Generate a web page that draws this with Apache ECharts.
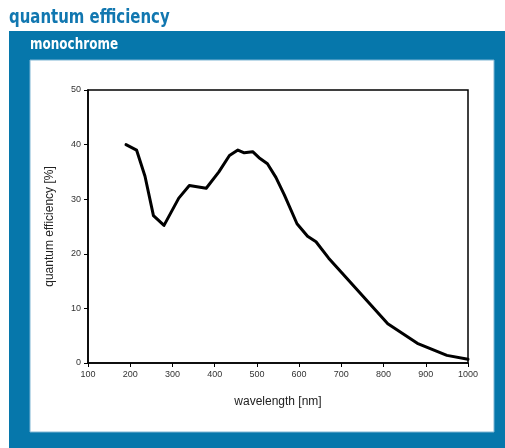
<!DOCTYPE html>
<html>
<head>
<meta charset="utf-8">
<script src="https://cdn.jsdelivr.net/npm/echarts@6/dist/echarts.min.js"></script>
<style>
html,body{margin:0;padding:0;background:#fff;}
#c{width:505px;height:448px;}
</style>
</head>
<body>
<div id="c"></div>
<script>
var wavelengths = [190, 215, 235, 255, 280, 315, 340, 380, 410, 435, 455, 470, 490, 505, 525, 545, 565, 595, 620, 640, 670, 700, 810, 880, 950, 1000];
var efficiency = [40, 39, 34.2, 27, 25.2, 30.2, 32.5, 32, 35, 38, 39, 38.5, 38.7, 37.6, 36.5, 34, 30.8, 25.5, 23.2, 22.2, 19.2, 16.6, 7.2, 3.6, 1.4, 0.7];
var xTicks = [100, 200, 300, 400, 500, 600, 700, 800, 900, 1000];
var yTicks = [0, 10, 20, 30, 40, 50];

var chart = echarts.init(document.getElementById('c'), null, {renderer: 'canvas'});
var font = 'Liberation Sans, Arial, sans-serif';
var narrow = '"Liberation Sans Narrow", "DejaVu Sans Condensed", sans-serif';
chart.setOption({
  animation: false,
  backgroundColor: '#ffffff',
  graphic: [
    {type: 'rect', z: -10, shape: {x: 9, y: 31, width: 496, height: 417}, style: {fill: '#0677ab'}},
    {type: 'rect', z: -9, shape: {x: 30, y: 60, width: 464, height: 372}, style: {fill: '#ffffff', stroke: '#7fb6d4', lineWidth: 1}},
    {type: 'text', z: 5, x: 9, y: 8, scaleX: 0.83, style: {text: 'quantum efficiency', fill: '#1177b0', font: 'bold 20px ' + narrow, verticalAlign: 'top', align: 'left'}},
    {type: 'text', z: 5, x: 30, y: 38, scaleX: 0.89, style: {text: 'monochrome', fill: '#ffffff', font: 'bold 15px ' + narrow, verticalAlign: 'top', align: 'left'}}
  ],
  grid: {left: 88, right: 37, top: 90, bottom: 85, show: true, borderColor: '#000', borderWidth: 1.5, backgroundColor: 'transparent'},
  xAxis: {
    type: 'value', min: 100, max: 1000, interval: 100,
    name: 'wavelength [nm]', nameLocation: 'middle', nameGap: 33,
    nameTextStyle: {fontFamily: font, fontSize: 12, color: '#222'},
    axisLine: {lineStyle: {color: '#000', width: 1.5}},
    axisTick: {show: true, inside: false, length: 4, lineStyle: {color: '#000', width: 1}},
    axisLabel: {fontFamily: font, fontSize: 9, color: '#333', margin: 7,
      formatter: function (v) { return xTicks.indexOf(v) >= 0 ? String(v) : ''; }},
    splitLine: {show: false}
  },
  yAxis: {
    type: 'value', min: 0, max: 50, interval: 10,
    name: 'quantum efficiency [%]', nameLocation: 'middle', nameGap: 32, nameRotate: 90,
    nameTextStyle: {fontFamily: font, fontSize: 12, color: '#222'},
    axisLine: {show: true, lineStyle: {color: '#000', width: 1.5}},
    axisTick: {show: true, inside: false, length: 4, lineStyle: {color: '#000', width: 1}},
    axisLabel: {fontFamily: font, fontSize: 9, color: '#333', margin: 7,
      formatter: function (v) { return yTicks.indexOf(v) >= 0 ? String(v) : ''; }},
    splitLine: {show: false}
  },
  series: [{
    type: 'line',
    data: wavelengths.map(function (w, i) { return [w, efficiency[i]]; }),
    showSymbol: false, symbol: 'none', smooth: false,
    lineStyle: {color: '#000', width: 3, join: 'round', cap: 'round'}
  }]
});
</script>
</body>
</html>
